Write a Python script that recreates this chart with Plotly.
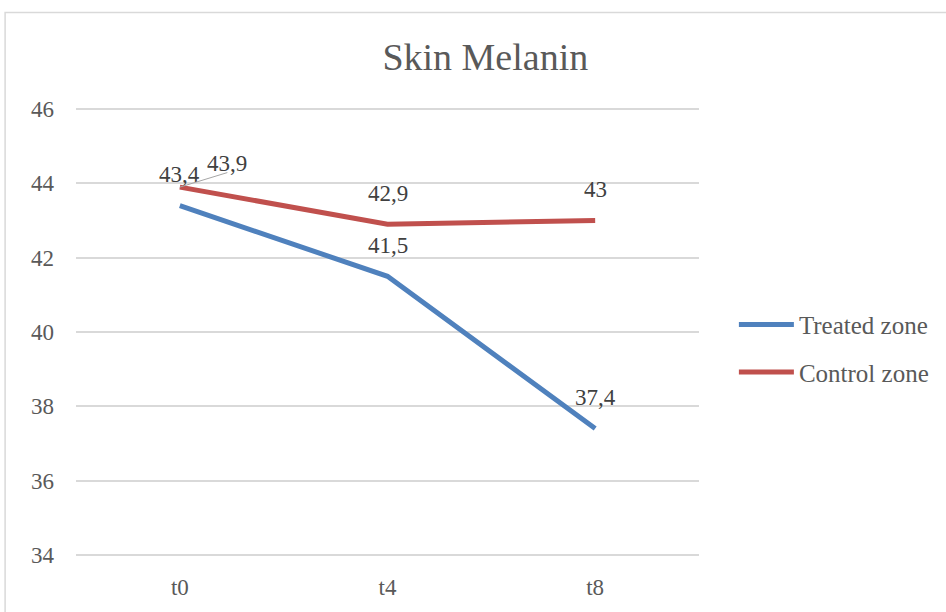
import plotly.graph_objects as go

categories = ["t0", "t4", "t8"]
treated = [43.4, 41.5, 37.4]
control = [43.9, 42.9, 43.0]
series_names = ["Treated zone", "Control zone"]
y_ticks = [34, 36, 38, 40, 42, 44, 46]

FONT = "Liberation Serif"
GREY = "#595959"
LABEL = "#404040"
BLUE = "#4F81BD"
RED = "#C0504D"
FS = 23


def fmt(v):
    return ("%g" % v).replace(".", ",")


fig = go.Figure()
fig.add_trace(go.Scatter(x=categories, y=treated, name=series_names[0], mode="lines",
                         legendgroup="a", line=dict(color=BLUE, width=5)))
fig.add_trace(go.Scatter(x=categories, y=control, name=series_names[1], mode="lines",
                         legendgroup="b", line=dict(color=RED, width=5)))

annotations = []
for c, v in zip(categories, treated):
    annotations.append(dict(x=c, y=v, xref="x", yref="y", text=fmt(v), showarrow=False,
                            yshift=31, font=dict(family=FONT, size=FS, color=LABEL)))
for i, (c, v) in enumerate(zip(categories, control)):
    if i == 0:
        # leader line
        annotations.append(dict(x=c, y=v, xref="x", yref="y", text="", showarrow=True,
                                arrowhead=0, arrowwidth=1, arrowcolor="#A6A6A6",
                                ax=49, ay=-15, standoff=0, startstandoff=0))
        annotations.append(dict(x=c, y=v, xref="x", yref="y", text=fmt(v), showarrow=False,
                                xshift=47, yshift=24,
                                font=dict(family=FONT, size=FS, color=LABEL)))
    else:
        annotations.append(dict(x=c, y=v, xref="x", yref="y", text=fmt(v), showarrow=False,
                                yshift=31, font=dict(family=FONT, size=FS, color=LABEL)))

fig.update_layout(
    width=946, height=612,
    margin=dict(l=76, r=246, t=108, b=53),
    paper_bgcolor="white", plot_bgcolor="white",
    title=dict(text="Skin Melanin", x=0.513, xanchor="center", y=0.908, yanchor="middle",
               font=dict(family=FONT, size=38, color=GREY)),
    font=dict(family=FONT, size=FS, color=GREY),
    xaxis=dict(type="category", range=[-0.5, 2.5], showgrid=False, showline=False,
               ticks="", tickfont=dict(family=FONT, size=FS, color=GREY), ticklabelstandoff=15),
    yaxis=dict(range=[33.97, 46.03], tickvals=y_ticks, showgrid=True, gridcolor="#D9D9D9",
               gridwidth=1.5, zeroline=False, showline=False, ticks="",
               tickfont=dict(family=FONT, size=FS, color=GREY), ticklabelstandoff=21),
    legend=dict(x=1.056, xanchor="left", y=0.464, yanchor="middle",
                font=dict(family=FONT, size=25, color=GREY), tracegroupgap=12,
                traceorder="grouped", itemwidth=55),
    showlegend=True,
    annotations=annotations,
    shapes=[dict(type="rect", xref="paper", yref="paper", x0=-0.1138, x1=1.5, y0=-0.3, y1=1.213,
                 line=dict(color="#D9D9D9", width=1.5), layer="below")],
)

fig.write_html("out.html", config={"displayModeBar": False},
               post_script="document.body.style.margin='0';")
